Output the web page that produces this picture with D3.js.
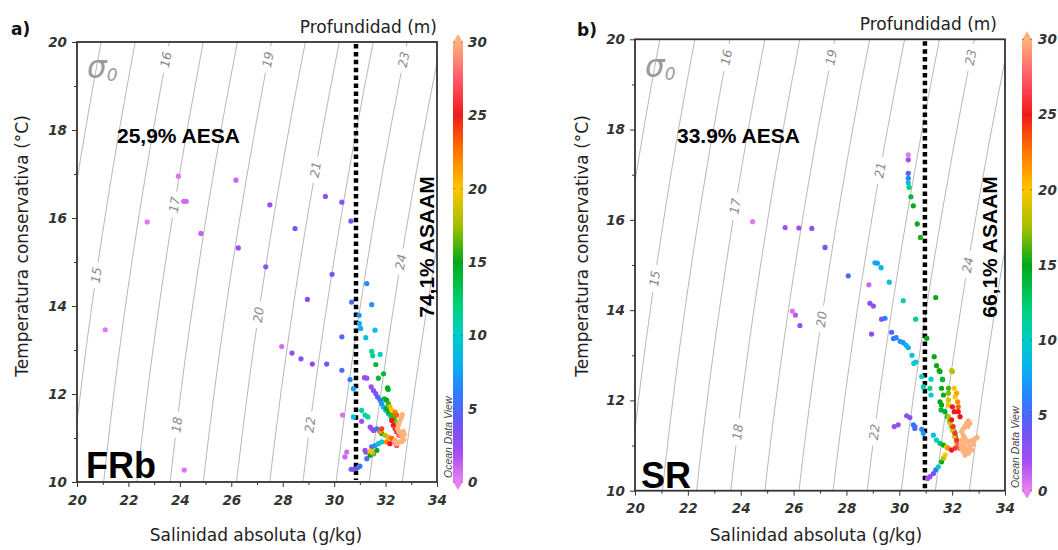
<!DOCTYPE html>
<html><head><meta charset="utf-8">
<script src="https://cdn.jsdelivr.net/npm/d3@7"></script>
<style>body{margin:0;background:#fff}svg{display:block}</style>
</head><body><svg id="c" width="1058" height="550"></svg>
<script>
// ---------------- DATA ----------------
const sigmaLevels = [14,15,16,17,18,19,20,21,22,23,24,25];
const sigmaLabelTemp = [null,14.7,19.6,16.3,11.3,19.6,13.8,17.1,11.3,19.6,15.0,null];
const xTicks = [20,22,24,26,28,30,32,34];
const yTicks = [10,12,14,16,18,20];
const depthTicks = [0,5,10,15,20,25,30];
const panelLetters = ["a)","b)"];
const siteNames = ["FRb","SR"];
const aesaLabels = ["25,9% AESA","33.9% AESA"];
const asaamLabels = ["74,1% ASAAM","66,1% ASAAM"];
const dividerSal = [30.85, 30.97];
const xTitle = "Salinidad absoluta (g/kg)";
const yTitle = "Temperatura conservativa (°C)";
const cbTitle = "Profundidad (m)";

// [salinity, temperature, depth]
const frbPoints = [
 [23.94,16.95,0.5],[26.18,16.86,1],[24.15,16.38,0.8],[24.25,16.38,0.8],[22.73,15.91,0.3],[24.82,15.65,1.2],
 [27.50,16.30,2.5],[26.27,15.32,2.5],[28.48,15.76,3.5],[29.66,16.49,2.5],[30.30,16.36,2.8],[30.65,15.93,4],
 [27.34,14.89,3],[29.92,14.72,3.5],[21.10,13.46,0.3],[28.96,14.15,3],[30.68,14.09,5],[31.27,14.51,6.5],
 [31.46,14.03,7],[30.30,13.30,5],[30.97,13.79,7],[30.98,13.60,7.5],[31.03,13.49,8],[31.23,13.28,9],[31.59,13.45,9],
 [27.96,13.08,0.8],[28.36,12.93,2.5],[28.71,12.80,3],[29.15,12.68,3],[29.71,12.68,3.8],[30.30,12.54,5],
 [30.62,12.33,6],[30.75,12.12,7.5],[31.46,12.97,11],[31.50,12.87,12],[31.79,12.90,10],[31.62,12.67,14],
 [31.18,12.37,2.5],[31.27,12.36,2.5],[31.72,12.36,14],[31.92,12.46,14],[32.08,12.14,15],[32.10,12.10,14],
 [31.44,12.16,2.5],[31.53,12.08,3],[31.62,12.01,3.5],[31.69,11.93,4.5],[31.79,11.86,5.5],
 [31.95,11.89,14],[32.04,11.86,15],[32.11,11.78,16],
 [31.85,11.78,7],[31.92,11.70,8],[32.01,11.63,8.5],[32.11,11.55,9],[32.21,11.48,9.5],[32.30,11.40,10],[32.37,11.33,10],
 [32.04,11.67,15],[32.14,11.59,15],[32.24,11.52,16],[32.34,11.44,16],[32.43,11.36,17],
 [32.17,11.71,19],[32.24,11.63,20],[32.37,11.59,22],[32.43,11.52,23],
 [32.24,11.40,25],[32.30,11.29,25],[32.37,11.21,26],[32.43,11.14,26],[32.52,11.06,27],
 [31.07,11.63,11],[31.20,11.52,11],[31.31,11.48,11],[30.33,11.52,0.5],[30.75,11.48,9],[31.07,11.38,2],
 [31.40,11.25,2.5],[31.46,11.21,2.5],[31.53,11.17,3],[31.66,11.21,5],[31.75,11.17,6],
 [31.85,11.10,15],[31.98,11.06,18],[32.11,11.02,21],[32.24,10.99,23],[31.85,11.21,24],[31.79,11.14,22],
 [32.04,10.91,22],[32.17,10.87,25],[32.37,10.91,28],[32.43,10.83,27],
 [31.46,10.80,5],[31.59,10.83,7],[31.72,10.87,9],[31.85,10.91,10],
 [31.20,10.72,2.5],[31.40,10.70,20],[31.66,10.72,15],[31.53,10.64,5],
 [30.49,10.68,0.8],[30.42,10.57,1],[30.66,10.29,3],[30.75,10.29,3.5],[30.92,10.33,5],[31.00,10.36,5.5],
 [31.23,10.68,2.5],[31.27,10.53,5],[31.40,10.61,15],[31.50,10.66,18],[24.17,10.27,0.5],
 [32.65,11.53,30],[32.60,11.45,30],[32.55,11.38,30],[32.50,11.30,30],[32.47,11.21,30],[32.52,11.14,30],
 [32.59,11.08,30],[32.65,11.02,30],[32.71,10.96,30],[32.63,10.92,30],[32.54,10.91,30],[32.43,10.87,30],
 [32.37,10.95,30],[32.73,11.08,30],[32.69,11.15,30]
];

const srPoints = [
 [30.34,17.44,0.3],[30.34,17.33,2],[30.34,17.03,4.5],[30.34,16.92,6.5],[30.34,16.82,9],[30.37,16.72,12],
 [30.44,16.51,14],[30.53,16.31,15],[30.68,15.91,15],[30.80,15.61,15.5],
 [24.45,15.96,0.3],[25.68,15.83,2],[26.20,15.82,2],[26.69,15.81,2.5],[27.19,15.39,4],[28.07,14.76,5],
 [29.08,15.05,7.5],[29.17,15.04,7.5],[29.31,14.94,8.5],[28.85,14.56,1],[29.62,14.62,9],[28.89,14.15,3],
 [29.02,14.09,2.5],[30.15,14.21,11],[31.38,14.28,15],[25.95,13.98,0.5],[26.07,13.89,1.5],[26.24,13.66,2.5],
 [29.33,13.80,3.5],[29.46,13.82,6],[30.62,13.80,12],[28.95,13.47,3],[29.71,13.51,5],[29.78,13.37,6],
 [29.88,13.39,6],[30.03,13.31,7],[30.15,13.28,7],[30.26,13.22,8],[30.34,13.17,8],[30.48,13.00,9],
 [30.55,12.82,9.5],[30.62,12.85,9.5],[31.04,13.38,15],[31.32,12.97,15],[31.41,12.77,15],[31.51,12.66,15],
 [31.64,12.46,14],[31.98,12.66,18],
 [30.85,12.53,10],[31.20,12.47,10],[31.63,12.47,14],[31.54,12.64,15],[32.01,12.64,18],[30.91,12.30,10],
 [31.16,12.27,12],[31.20,12.12,10],[31.60,12.27,15],[31.67,12.12,15],[31.86,12.27,16],[31.86,12.16,17],
 [32.08,12.27,20],[32.17,12.16,21],[32.11,12.08,20],[31.54,11.97,15],[31.60,11.90,15],[31.58,11.79,14],
 [31.86,12.01,19],[31.86,11.90,20],[32.21,11.97,22],[32.23,11.86,23],[32.23,11.75,25],[32.30,11.64,25],
 [32.01,11.86,25],[32.08,11.75,25],
 [31.73,11.75,15],[31.82,11.64,15],[31.91,11.53,16],[31.99,11.42,16],[32.08,11.31,16],[32.13,11.20,16],
 [31.86,11.64,18],[31.93,11.49,19],[32.01,11.34,19],[32.08,11.20,20],[32.17,11.05,20],
 [31.98,11.57,25],[32.04,11.42,26],[32.11,11.27,26],[32.17,11.12,26],[32.23,11.01,27],[32.30,10.94,27],
 [30.59,11.38,5],[30.91,11.27,7],[31.29,11.23,9],[31.41,11.12,10],[31.54,11.05,13],[31.67,11.01,15],
 [31.79,10.97,19],[31.86,10.94,22],[31.98,10.90,25],[32.11,10.94,26],
 [31.73,10.79,20],[31.67,10.72,18],[31.60,10.64,15],[31.48,10.53,10],[31.38,10.46,6],[31.29,10.38,4],
 [31.16,10.31,2.5],[31.07,10.27,2],
 [29.96,11.46,2.5],[29.81,11.42,2.5],[30.28,11.66,3],[30.40,11.62,3],[30.53,11.46,5],[30.59,11.42,5.5],[30.85,11.36,6],
 [32.61,11.55,30],[32.55,11.49,30],[32.49,11.43,30],[32.42,11.37,30],[32.36,11.31,30],[32.42,11.23,30],
 [32.49,11.16,30],[32.36,11.12,30],[32.49,11.05,30],[32.61,11.09,30],[32.74,11.11,30],[32.86,11.15,30],
 [32.94,11.18,30],[32.80,11.03,30],[32.67,10.98,30],[32.55,10.92,30],[32.42,10.87,30],[32.49,10.79,30],
 [32.61,10.83,30],[32.74,10.90,30],[32.36,10.94,30],[32.33,11.01,30],[32.46,10.96,30],[32.67,11.49,30],[32.59,11.42,30]
];
const panelPoints = [frbPoints, srPoints];

// ---------------- LAYOUT / STYLE ----------------
const layouts = [
 {left:77, right:437, top:42, bottom:482, letter:[11,35], prof:[437,33], sig:[87,78], aesa:[117,143],
  asaam:[434,247], site:[86,478], odv:[452,478], cbX:453, cbW:10, cbLab:468, yTitleX:28, yTitleY:246, xTitleX:256},
 {left:635, right:1005, top:39.3, bottom:490.7, letter:[577,36], prof:[997,30], sig:[645,77], aesa:[677,143],
  asaam:[997,247], site:[641,488], odv:[1019,488], cbX:1022, cbW:10, cbLab:1038, yTitleX:588, yTitleY:246, xTitleX:816}
];
const colorStops = [[0,"#ea80f2"],[2,"#a54cf2"],[4,"#6c56f4"],[6,"#2e7cff"],[8,"#08b0f2"],[10,"#00cdc8"],
 [12,"#00d27c"],[15,"#00aa18"],[17.5,"#a4c000"],[20,"#ffc400"],[22.5,"#ff7800"],[25,"#f01a1a"],[27.5,"#ff5a6a"],[30,"#ffb27c"]];
const color = d3.scaleLinear().domain(colorStops.map(d=>d[0])).range(colorStops.map(d=>d[1])).clamp(true);

function rhoEOS80(S,T){
  const rw = 999.842594 + 6.793952e-2*T - 9.095290e-3*T*T + 1.001685e-4*T**3 - 1.120083e-6*T**4 + 6.536332e-9*T**5;
  const A = 0.824493 - 4.0899e-3*T + 7.6438e-5*T*T - 8.2467e-7*T**3 + 5.3875e-9*T**4;
  const B = -5.72466e-3 + 1.0227e-4*T - 1.6546e-6*T*T;
  return rw + A*S + B*Math.pow(S,1.5) + 4.8314e-4*S*S;
}
function salForSigma(sig,T){
  let lo=0, hi=50;
  for(let i=0;i<60;i++){const m=(lo+hi)/2; if(rhoEOS80(m*35/35.16504,T)-1000<sig) lo=m; else hi=m;}
  return (lo+hi)/2;
}

const svg = d3.select("#c");
const defs = svg.append("defs");
const grad = defs.append("linearGradient").attr("id","cbgrad").attr("x1",0).attr("y1",1).attr("x2",0).attr("y2",0);
colorStops.forEach(s=>grad.append("stop").attr("offset",s[0]/30).attr("stop-color",s[1]));

const tickFont = "'DejaVu Sans', Verdana, sans-serif";

layouts.forEach((L,pi)=>{
  const x = d3.scaleLinear().domain([20,34]).range([L.left,L.right]);
  const y = d3.scaleLinear().domain([10,20]).range([L.bottom,L.top]);
  const g = svg.append("g");
  defs.append("clipPath").attr("id","clip"+pi).append("rect")
    .attr("x",L.left).attr("y",L.top).attr("width",L.right-L.left).attr("height",L.bottom-L.top);

  // isopycnals
  const gi = g.append("g").attr("clip-path",`url(#clip${pi})`);
  const line = d3.line().x(d=>x(d[0])).y(d=>y(d[1]));
  sigmaLevels.forEach((sig,k)=>{
    const tl = sigmaLabelTemp[k];
    const gap = 0.3;
    const segs = tl==null ? [[9.8,20.2]] : [[9.8,tl-gap],[tl+gap,20.2]];
    segs.forEach(([a,b])=>{
      const pts = d3.range(a,b+1e-9,0.05).map(T=>[salForSigma(sig,T),T]);
      gi.append("path").attr("d",line(pts)).attr("fill","none").attr("stroke","#b4b4b4").attr("stroke-width",1);
    });
    if(tl!=null){
      const s1=salForSigma(sig,tl-0.2), s2=salForSigma(sig,tl+0.2);
      const ang = Math.atan2(y(tl+0.2)-y(tl-0.2), x(s2)-x(s1))*180/Math.PI;
      const sx = x(salForSigma(sig,tl)), sy=y(tl);
      g.append("text").attr("transform",`translate(${sx},${sy}) rotate(${ang})`)
        .attr("text-anchor","middle").attr("dy","0.35em")
        .attr("font-family",tickFont).attr("font-style","italic").attr("font-size",12.5)
        .attr("fill","#8a8a8a").text(sig);
    }
  });

  // sigma0 label
  const st = g.append("text").attr("x",L.sig[0]).attr("y",L.sig[1]).attr("font-family","'DejaVu Sans', sans-serif")
    .attr("font-style","italic").attr("fill","#9a9a9a");
  st.append("tspan").attr("font-size",31).text("σ");
  st.append("tspan").attr("font-size",17).attr("dy",3).text("0");

  // divider
  g.append("line").attr("x1",x(dividerSal[pi])).attr("x2",x(dividerSal[pi]))
    .attr("y1",L.top+2).attr("y2",L.bottom-2).attr("stroke","#000").attr("stroke-width",4.5)
    .attr("stroke-dasharray","4.5,3.4");

  // points
  const pts = panelPoints[pi].slice().sort((a,b)=>a[2]-b[2]);
  g.append("g").attr("clip-path",`url(#clip${pi})`).selectAll("circle").data(pts).join("circle")
    .attr("cx",d=>x(d[0])).attr("cy",d=>y(d[1])).attr("r",2.6).attr("fill",d=>color(d[2]));

  // axes
  const xa = g.append("g").attr("transform",`translate(0,${L.bottom})`)
    .call(d3.axisBottom(x).tickValues(xTicks).tickSize(5).tickPadding(8));
  const xm = g.append("g").attr("transform",`translate(0,${L.bottom})`)
    .call(d3.axisBottom(x).tickValues(d3.range(21,34,2)).tickSize(3).tickFormat(""));
  const ya = g.append("g").attr("transform",`translate(${L.left},0)`)
    .call(d3.axisLeft(y).tickValues(yTicks).tickSize(5).tickPadding(5));
  const ym = g.append("g").attr("transform",`translate(${L.left},0)`)
    .call(d3.axisLeft(y).tickValues(d3.range(11,20,2)).tickSize(3).tickFormat(""));
  [xa,xm,ya,ym].forEach(a=>{a.select(".domain").remove(); a.selectAll("line").attr("stroke","#333");});
  [xa,ya].forEach(a=>a.selectAll("text").attr("font-family",tickFont).attr("font-style","italic")
    .attr("font-weight","bold").attr("font-size",13.5).attr("fill","#333"));

  g.append("rect").attr("x",L.left).attr("y",L.top).attr("width",L.right-L.left).attr("height",L.bottom-L.top)
    .attr("fill","none").attr("stroke","#333").attr("stroke-width",1.8);

  // titles
  g.append("text").attr("x",L.xTitleX).attr("y",541).attr("text-anchor","middle")
    .attr("font-family",tickFont).attr("font-size",17).attr("fill","#222").text(xTitle);
  g.append("text").attr("transform",`translate(${L.yTitleX},${L.yTitleY}) rotate(-90)`).attr("text-anchor","middle")
    .attr("font-family",tickFont).attr("font-size",17).attr("fill","#222").text(yTitle);
  g.append("text").attr("x",L.prof[0]).attr("y",L.prof[1]).attr("text-anchor","end")
    .attr("font-family",tickFont).attr("font-size",17).attr("fill","#222").text(cbTitle);
  g.append("text").attr("x",L.letter[0]).attr("y",L.letter[1]).attr("font-family",tickFont)
    .attr("font-weight","bold").attr("font-size",17).attr("fill","#111").text(panelLetters[pi]);

  const bold = "'Liberation Sans', Arial, sans-serif";
  g.append("text").attr("x",L.aesa[0]).attr("y",L.aesa[1]).attr("font-family",bold).attr("font-weight","bold")
    .attr("font-size",21).attr("fill","#000").text(aesaLabels[pi]);
  g.append("text").attr("transform",`translate(${L.asaam[0]},${L.asaam[1]}) rotate(-90)`).attr("text-anchor","middle")
    .attr("font-family",bold).attr("font-weight","bold").attr("font-size",21).attr("fill","#000").text(asaamLabels[pi]);
  g.append("text").attr("x",L.site[0]).attr("y",L.site[1]).attr("font-family",bold).attr("font-weight","bold")
    .attr("font-size",36).attr("fill","#000").text(siteNames[pi]);
  g.append("text").attr("transform",`translate(${L.odv[0]},${L.odv[1]}) rotate(-90)`)
    .attr("font-family",bold).attr("font-style","italic").attr("font-size",10.5).attr("fill","#444").text("Ocean Data View");

  // colorbar
  const cy = d3.scaleLinear().domain([0,30]).range([L.bottom,L.top]);
  const cx0=L.cbX, cw=L.cbW;
  g.append("rect").attr("x",cx0).attr("y",cy(30)).attr("width",cw).attr("height",cy(0)-cy(30)).attr("fill","url(#cbgrad)");
  g.append("path").attr("d",`M${cx0},${cy(30)+0.5}L${cx0+cw},${cy(30)+0.5}L${cx0+cw/2},${cy(30)-8}Z`).attr("fill",color(30));
  g.append("path").attr("d",`M${cx0},${cy(0)-0.5}L${cx0+cw},${cy(0)-0.5}L${cx0+cw/2},${cy(0)+8}Z`).attr("fill",color(0));
  const cbg = g.append("g");
  depthTicks.forEach(t=>{
    cbg.append("line").attr("x1",cx0).attr("x2",cx0+2).attr("y1",cy(t)).attr("y2",cy(t)).attr("stroke","#555").attr("stroke-opacity",0.6);
    cbg.append("line").attr("x1",cx0+cw-2).attr("x2",cx0+cw).attr("y1",cy(t)).attr("y2",cy(t)).attr("stroke","#555").attr("stroke-opacity",0.6);
    cbg.append("text").attr("x",L.cbLab).attr("y",cy(t)).attr("dy","0.36em").attr("font-family",tickFont)
      .attr("font-style","italic").attr("font-weight","bold").attr("font-size",13.5).attr("fill","#333").text(t);
  });
});
</script></body></html>
